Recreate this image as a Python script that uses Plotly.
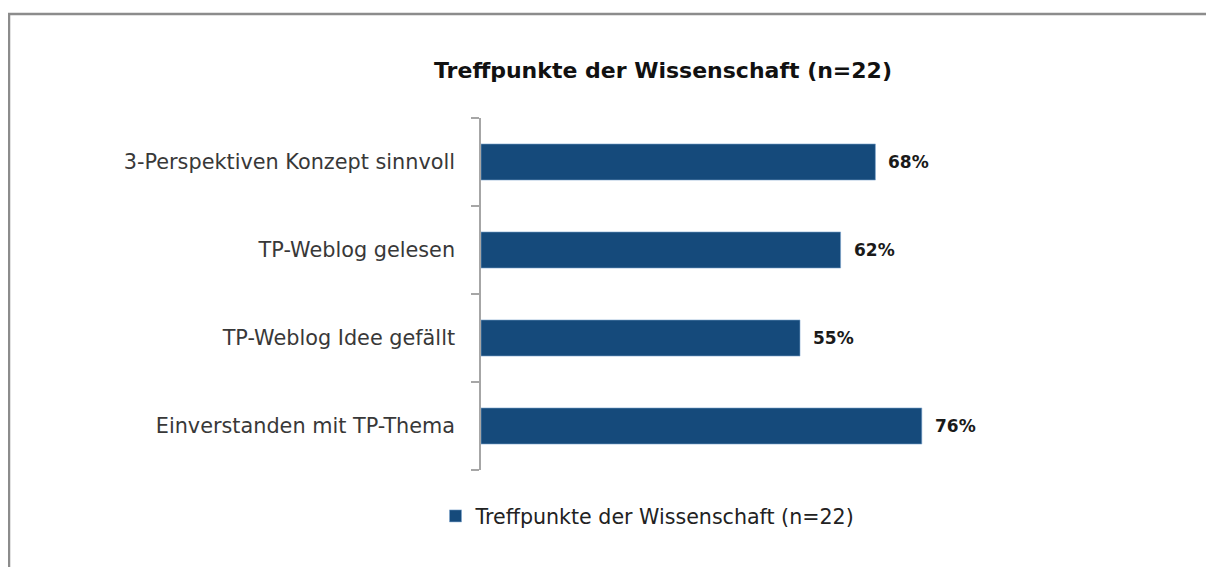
import plotly.graph_objects as go

categories = [
    "Einverstanden mit TP-Thema",
    "TP-Weblog Idee gefällt",
    "TP-Weblog gelesen",
    "3-Perspektiven Konzept sinnvoll",
]
values = [76, 55, 62, 68]
series_name = "Treffpunkte der Wissenschaft (n=22)"
title_text = "Treffpunkte der Wissenschaft (n=22)"

FONT = "DejaVu Sans"
BAR_COLOR = "#154a7b"
OFF = 8  # default body margin of the html page
W, H = 1214 - OFF, 567 - OFF

fig = go.Figure()
fig.add_trace(go.Bar(
    x=values,
    y=categories,
    orientation="h",
    name=series_name,
    marker=dict(color=BAR_COLOR, line=dict(color="#7fa6cf", width=0.6)),
    showlegend=True,
))

for v, c in zip(values, categories):
    fig.add_annotation(
        x=v, y=c, xref="x", yref="y",
        text=f"<b>{v}%</b>", showarrow=False,
        xanchor="left", yanchor="middle", xshift=11,
        font=dict(family=FONT, size=17, color="#1a1a1a"),
    )

fig.update_layout(
    width=W, height=H,
    margin=dict(l=481 - OFF, r=W - (481 - OFF) - 580, t=118 - OFF, b=H - (118 - OFF) - 352),
    paper_bgcolor="white", plot_bgcolor="white",
    bargap=0.59,
    title=dict(
        text=f"<b>{title_text}</b>",
        x=(663 - OFF) / W, xref="container", xanchor="center",
        y=1 - (70 - OFF) / H, yref="container", yanchor="middle",
        font=dict(family=FONT, size=22, color="#111111"),
    ),
    xaxis=dict(range=[0, 100], visible=False, fixedrange=True),
    yaxis=dict(
        type="category",
        showline=True, linecolor="#a6a6a6", linewidth=1.5,
        ticks="outside", tickson="boundaries", ticklen=8,
        tickcolor="#a6a6a6", tickwidth=1.5,
        ticklabelstandoff=20,
        tickfont=dict(family=FONT, size=20.8, color="#383838"),
        showgrid=False, zeroline=False,
    ),
    legend=dict(
        orientation="h",
        x=(648 - OFF) / W, xref="container", xanchor="center",
        y=1 - (516 - OFF) / H, yref="container", yanchor="middle",
        font=dict(family=FONT, size=20.6, color="#222222"),
        itemwidth=30,
    ),
    shapes=[
        dict(type="rect", xref="paper", yref="paper",
             x0=-(481 - 9) / 580, x1=(1240 - 481) / 580,
             y0=-(600 - 470) / 352, y1=(470 - 14) / 352,
             line=dict(color="#8c8c8c", width=2.5), fillcolor="rgba(0,0,0,0)",
             layer="below"),
    ],
)

fig.write_html("out.html")
